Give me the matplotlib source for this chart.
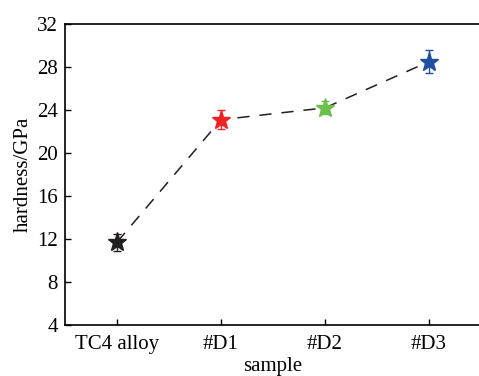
import matplotlib
matplotlib.use("Agg")
import matplotlib.pyplot as plt

categories = ["TC4 alloy", "#D1", "#D2", "#D3"]
hardness = [11.7, 23.1, 24.2, 28.5]
errors = [0.8, 0.9, 0.6, 1.1]
colors = ["#231f20", "#ee2424", "#6cc04a", "#1f4fa0"]
yticks = [4, 8, 12, 16, 20, 24, 28, 32]

plt.rcParams['font.family'] = ['Liberation Serif', 'DejaVu Serif']

fig = plt.figure(figsize=(4.79, 3.76), dpi=100)
ax = fig.add_axes([65/479, 1-325/376, 416/479, 301/376])

x = list(range(len(categories)))
ax.plot(x, hardness, linestyle=(0, (8, 6.5)), color="#231f20", linewidth=1.1, zorder=1)
for xi, h, e, c in zip(x, hardness, errors, colors):
    ax.errorbar(xi, h, yerr=e, fmt="none", ecolor=c, capsize=3,
                elinewidth=1.0, capthick=1.0, zorder=2)
    ax.plot(xi, h, marker="*", color=c, markersize=14, linestyle="none", zorder=3)

ax.set_xlim(-0.5, 3.5)
ax.set_ylim(4, 32)
ax.set_yticks(yticks)
ax.set_xticks(x)
ax.set_xticklabels(categories)
ax.tick_params(direction="in", labelsize=15, length=4, width=1)
ax.tick_params(axis="x", pad=7)
ax.tick_params(axis="y", pad=5)
for s in ax.spines.values():
    s.set_linewidth(1.2)
ax.set_xlabel("sample", fontsize=15, labelpad=2.5)
ax.set_ylabel("hardness/GPa", fontsize=15, labelpad=3)

fig.savefig("out.png", dpi=100)
